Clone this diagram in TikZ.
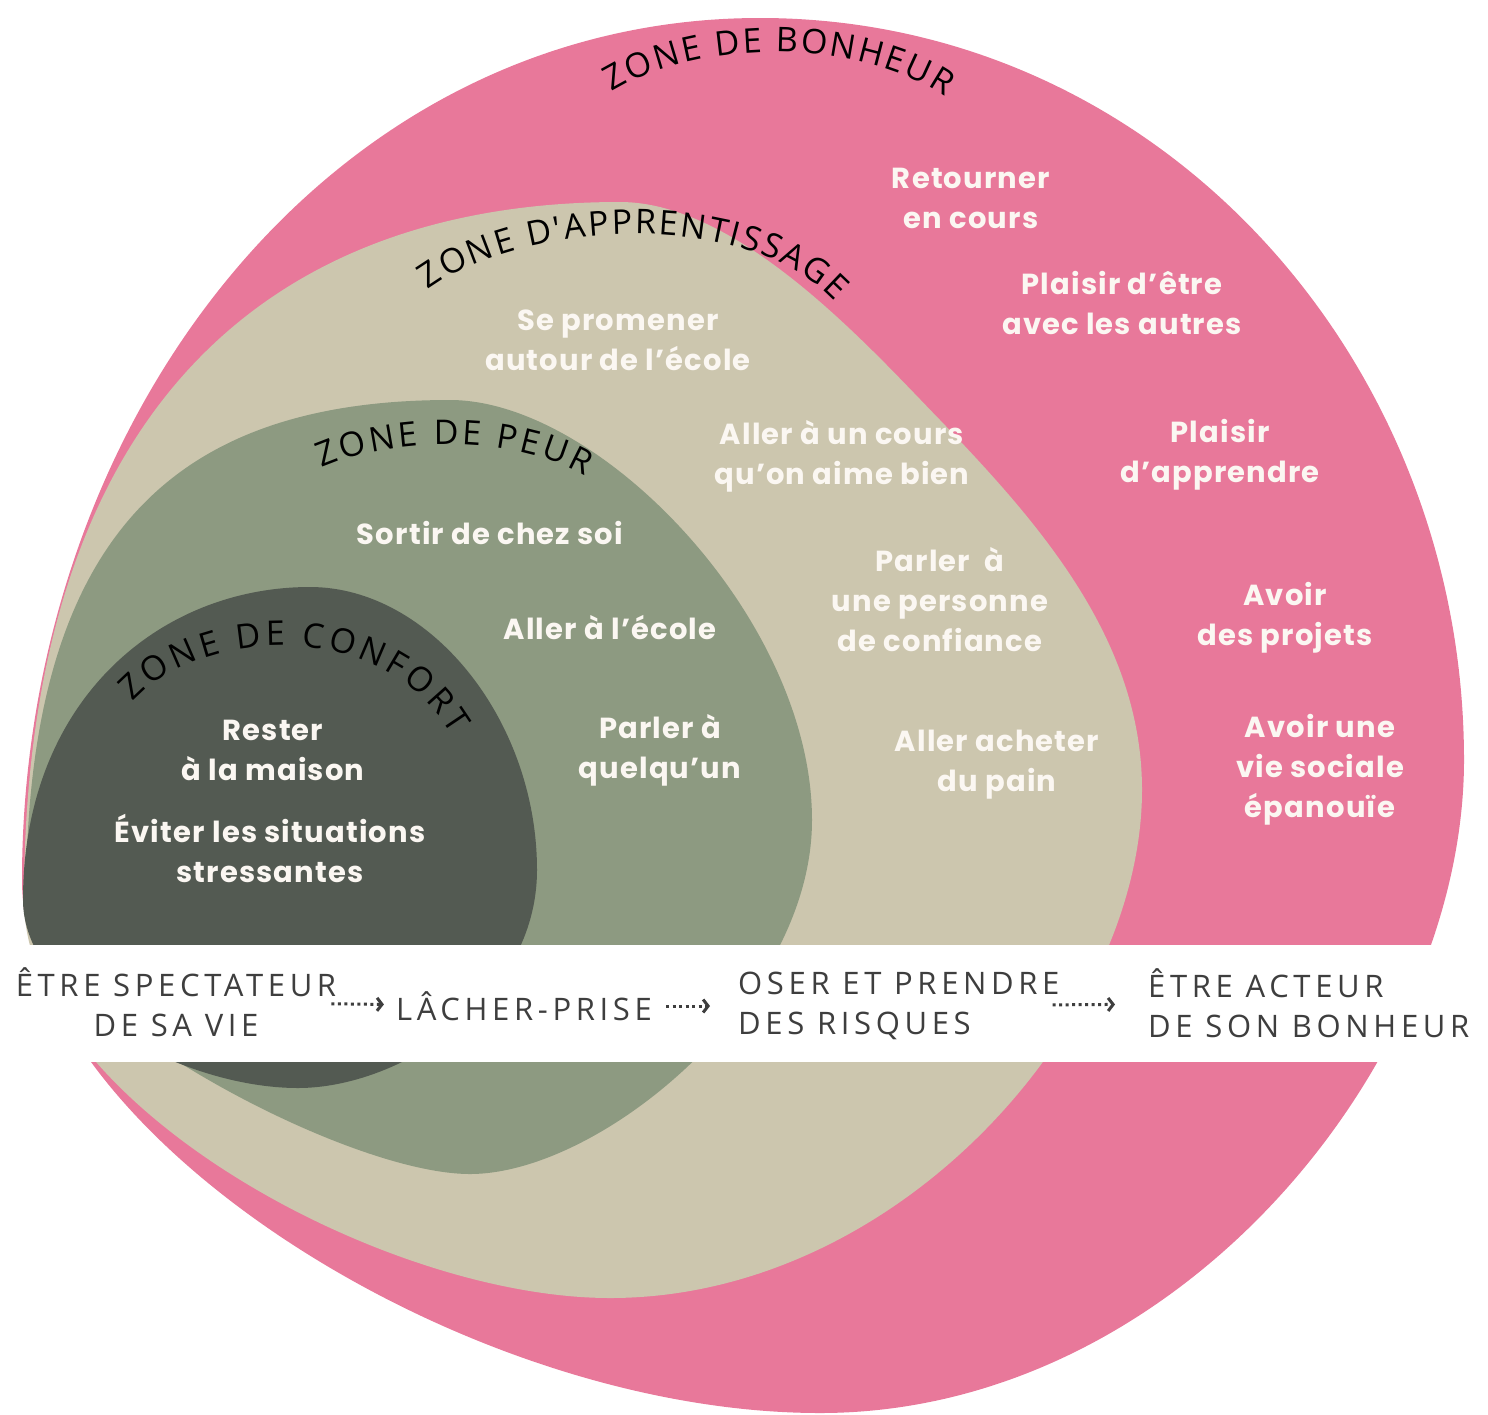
\documentclass[tikz,border=0pt]{standalone}
\usepackage{fontspec}
\setmainfont{Poppins}
\newfontfamily\itemfont[LetterSpace=4]{Poppins}
\newfontfamily\handfont[LetterSpace=15]{Open Sans}
\newfontfamily\titlefont{Open Sans}
\usetikzlibrary{decorations.text,arrows.meta}
\definecolor{zpink}{HTML}{E8789A}
\definecolor{zbeige}{HTML}{CCC6AE}
\definecolor{zsage}{HTML}{8D9A81}
\definecolor{zdark}{HTML}{535A52}
\definecolor{zwhite}{HTML}{FBF7F2}
\definecolor{zgrey}{HTML}{3E3E3E}
\tikzset{
  item/.style={font=\itemfont\fontsize{29}{40}\selectfont\bfseries, text=zwhite, align=center, inner sep=0pt},
  bandtxt/.style={font=\handfont\fontsize{31}{40}\selectfont, text=zgrey, inner sep=0pt},
  flow/.style={zgrey, line width=3pt, dash pattern=on 3pt off 3.5pt, -{Straight Barb[length=5pt,width=13pt,line width=3pt]}},
  ztitle/.style={decorate, decoration={text along path, text align=fit to path, text={|\titlefont\fontsize{34}{36}\selectfont|#1}}}
}
\begin{document}
\begin{tikzpicture}[x=1pt,y=-1pt]
\useasboundingbox (0,0) rectangle (1488,1414);
% zone de bonheur
\fill[zpink] (760,18) .. controls (1160,18) and (1464,360) .. (1464,760)
  .. controls (1464,1060) and (1180,1413) .. (820,1413)
  .. controls (460,1413) and (22,1130) .. (22,880)
  .. controls (22,420) and (330,18) .. (760,18) -- cycle;
% zone d'apprentissage
\fill[zbeige] (620,202) .. controls (740,202) and (870,348) .. (940,420)
  .. controls (1040,524) and (1142,640) .. (1142,790)
  .. controls (1142,1020) and (900,1298) .. (610,1298)
  .. controls (380,1298) and (24,1100) .. (24,900)
  .. controls (24,420) and (260,202) .. (620,202) -- cycle;
% zone de peur
\fill[zsage] (450,400) .. controls (600,400) and (812,620) .. (812,820)
  .. controls (812,1000) and (600,1174) .. (470,1174)
  .. controls (340,1174) and (26,1000) .. (26,900)
  .. controls (26,540) and (170,400) .. (450,400) -- cycle;
% zone de confort
\fill[zdark] (310,587) .. controls (430,587) and (537,720) .. (537,870)
  .. controls (537,1000) and (400,1088) .. (298,1088)
  .. controls (180,1088) and (23,1000) .. (23,900)
  .. controls (23,700) and (160,587) .. (310,587) -- cycle;
% band
\fill[white] (0,945) rectangle (1488,1062);
% titles
\path[ztitle={ZONE DE BONHEUR}] (612,92) .. controls (700,38) and (860,38) .. (945,97);
\path[ztitle={ZONE D'APPRENTISSAGE}] (428,290) .. controls (520,222) and (745,205) .. (835,302);
\path[ztitle={ZONE DE PEUR}] (322,468) .. controls (390,438) and (510,433) .. (585,476);
\path[ztitle={ZONE DE CONFORT}] (133,702) .. controls (200,628) and (380,615) .. (452,735);
% pink items
\node[item] (n1) at (971,198) {Retourner\\en cours};
\node[item] (n2) at (1122,303) {Plaisir d’être\\avec les autres};
\node[item] (n3) at (1220,455) {Plaisir\\d’apprendre};
\node[item] (n4) at (1285,618) {Avoir\\des projets};
\node[item] (n5) at (1320,770) {Avoir une\\vie sociale\\épanouïe};
% beige items
\node[item] (b1) at (618,340) {Se promener\\autour de l’école};
\node[item] (b2) at (842,456) {Aller à un cours\\qu’on aime bien};
\node[item] (b3) at (940,600) {Parler\ \ à\\une personne\\de confiance};
\node[item] (b4) at (997,765) {Aller acheter\\du pain};
% sage items
\node[item] (s1) at (490,533) {Sortir de chez soi};
\node[item] (s2) at (610,628) {Aller à l’école};
\node[item] (s3) at (660,750) {Parler à\\quelqu’un};
% dark items
\node[item] (d1) at (273,750) {Rester\\à la maison};
\node[item] (d2) at (270,848) {Éviter les situations\\stressantes};
% band texts
\node[bandtxt, align=center] (spect) at (176,1002) {ÊTRE SPECTATEUR\\DE SA VIE};
\node[bandtxt] (lacher) at (524,1006) {LÂCHER-PRISE};
\node[bandtxt, align=left, anchor=west] (oser) at (738,1006) {OSER ET PRENDRE\\DES RISQUES};
\node[bandtxt, align=left, anchor=west] (acteur) at (1148,1003) {ÊTRE ACTEUR\\DE SON BONHEUR};
\draw[flow, shorten <=-5pt, shorten >=12pt] (spect) -- (lacher);
\draw[flow, shorten <=14pt, shorten >=28pt] (lacher) -- (oser);
\draw[flow, shorten <=-7pt, shorten >=33pt] (oser) -- (acteur);
\end{tikzpicture}
\end{document}
